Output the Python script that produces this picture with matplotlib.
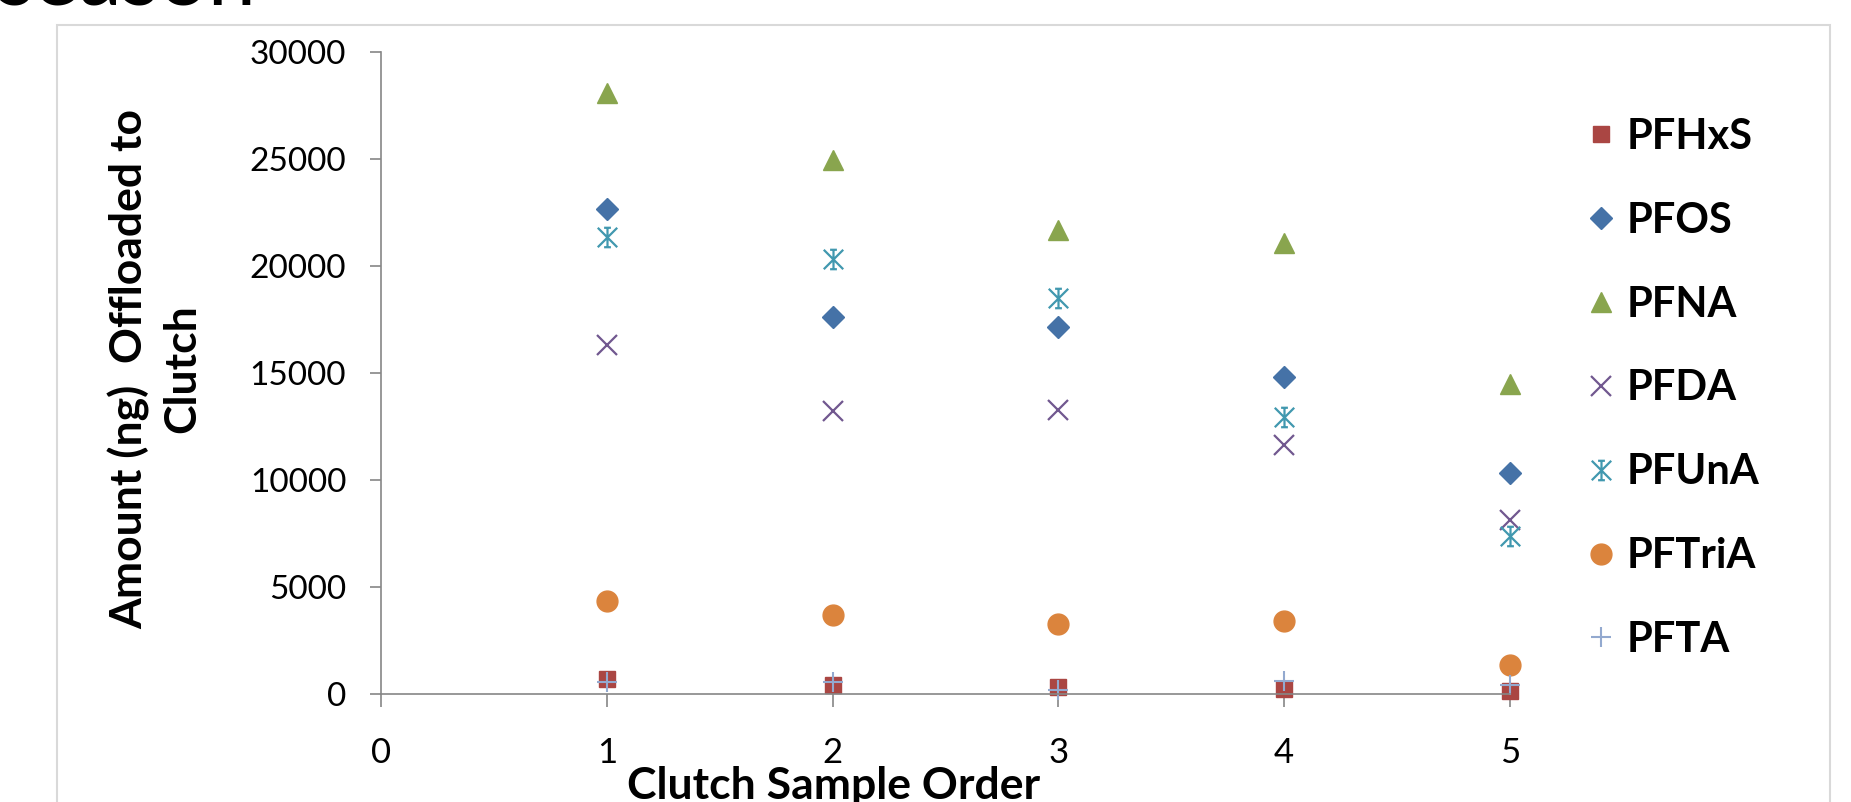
#
# Amount of each compound offloaded to the clutch, by clutch sample order
#

import matplotlib
matplotlib.use("Agg")
import matplotlib.pyplot as plt
from matplotlib.path import Path
from matplotlib.patches import Rectangle

plt.rcParams['font.family'] = ['Lato', 'DejaVu Sans']

# data
sample_order = [1, 2, 3, 4, 5]
pfhxs = [700, 420, 330, 240, 140]
pfos = [22660, 17600, 17150, 14800, 10330]
pfna = [28080, 24970, 21700, 21070, 14480]
pfda = [16310, 13230, 13250, 11640, 8140]
pfuna = [21360, 20340, 18520, 12940, 7400]
pftria = [4350, 3690, 3290, 3420, 1340]
pfta = [560, 560, 190, 600, 420]

x_ticks = [0, 1, 2, 3, 4, 5]
y_ticks = [0, 5000, 10000, 15000, 20000, 25000, 30000]

# excel style "star" marker: X + vertical bar with short caps
star = Path(
    [(-1, -1), (1, 1), (-1, 1), (1, -1), (0, -1), (0, 1),
     (-0.35, 1), (0.35, 1), (-0.35, -1), (0.35, -1)],
    [Path.MOVETO, Path.LINETO] * 5,
)

W, H = 1851, 802
fig = plt.figure(figsize=(W / 100, H / 100), dpi=100)
ax = fig.add_axes([381 / W, 1 - 694 / H, (1510 - 381) / W, (694 - 52) / H])

# light chart-area border
fig.patches.append(Rectangle((57 / W, -0.1), (1830 - 57) / W, 1.1 - 25 / H,
                             transform=fig.transFigure, fill=False,
                             edgecolor='#D9D9D9', linewidth=1.5))

series = [
    ("PFHxS", pfhxs, dict(marker='s', ms=12, color='#AA4643', mec='#AA4643')),
    ("PFOS", pfos, dict(marker='D', ms=11.5, color='#4572A7', mec='#4572A7')),
    ("PFNA", pfna, dict(marker='^', ms=15, color='#89A54E', mec='#89A54E')),
    ("PFDA", pfda, dict(marker='x', ms=14, color='#71588F', mew=1.6)),
    ("PFUnA", pfuna, dict(marker=star, ms=14, color='#4198AF', mew=1.6)),
    ("PFTriA", pftria, dict(marker='o', ms=15, color='#DB843D', mec='#DB843D')),
    ("PFTA", pfta, dict(marker='+', ms=14, color='#93A9CF', mew=1.5)),
]

for name, vals, style in series:
    ax.plot(sample_order, vals, linestyle='none', label=name, clip_on=False, **style)

ax.set_xlim(0, 5)
ax.set_ylim(0, 30000)
ax.set_xticks(x_ticks)
ax.set_yticks(y_ticks)

for side in ['top', 'right']:
    ax.spines[side].set_visible(False)
for side in ['left', 'bottom']:
    ax.spines[side].set_color('#868686')
    ax.spines[side].set_linewidth(1.2)

ax.tick_params(axis='y', direction='out', length=8, width=1.2, color='#868686',
               labelsize=24, pad=17)
ax.tick_params(axis='x', direction='out', length=9, width=1.2, color='#868686',
               labelsize=25, pad=22)

# axis titles
fig.text(834 / W, 1 - 766 / H, "Clutch Sample Order", ha='center', va='top',
         fontsize=32, fontweight='bold')
fig.text(155 / W, 1 - 369 / H, "Amount (ng)  Offloaded to\nClutch", ha='center',
         va='center', rotation=90, fontsize=32, fontweight='bold',
         multialignment='center', linespacing=1.38)

# cut-off heading text at the very top
fig.text(-4 / W, 1 - 6 / H, "season", ha='left', va='baseline', fontsize=62)

fig.legend(loc='upper left', bbox_to_anchor=(1584 / W, 1 - 118 / H),
           frameon=False, borderaxespad=0, borderpad=0, handlelength=0.8,
           handletextpad=0.22, labelspacing=1.1,
           prop=dict(size=30, weight='bold'))

fig.savefig("out.png", dpi=100)
